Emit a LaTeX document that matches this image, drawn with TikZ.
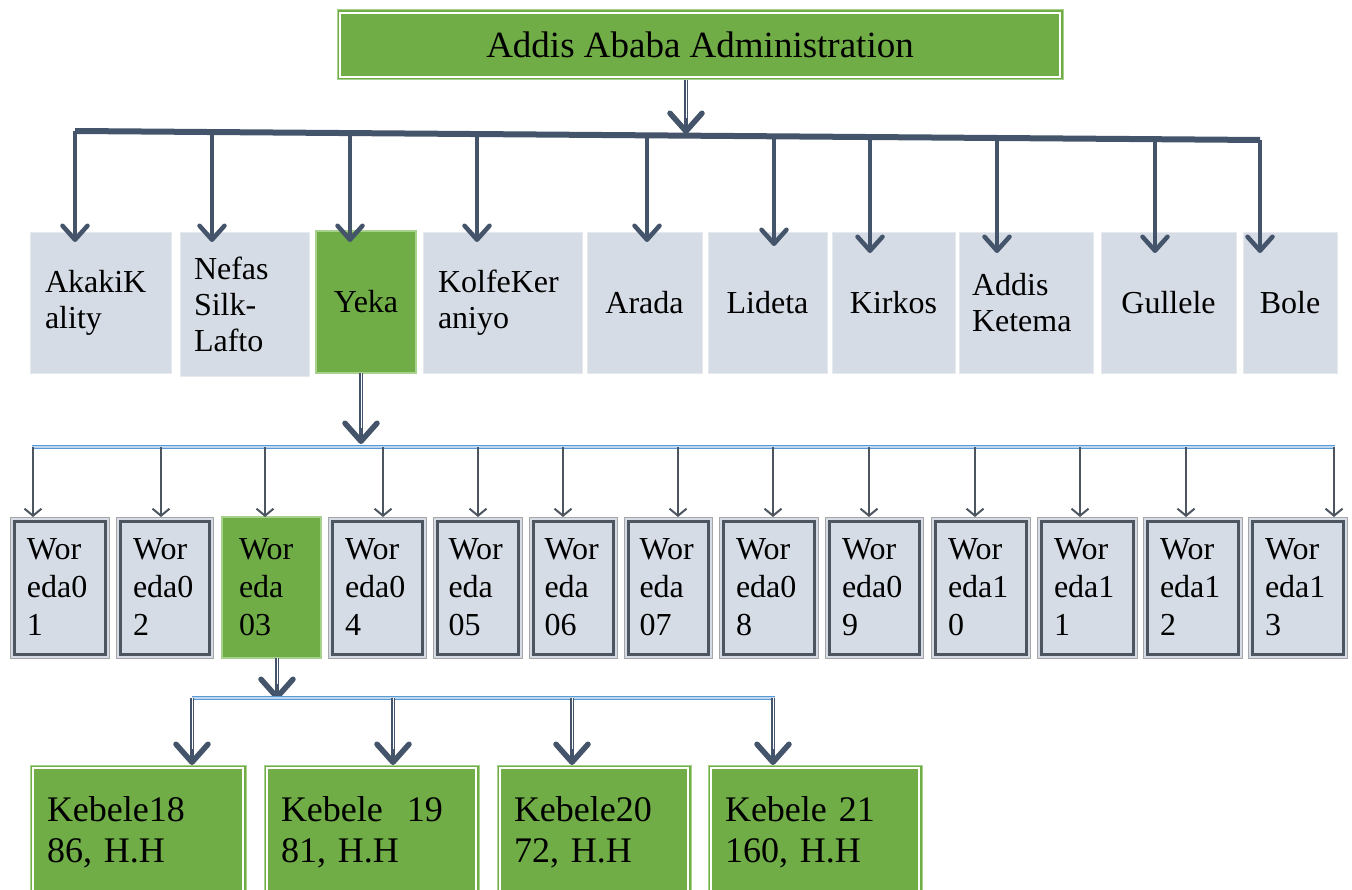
\documentclass[tikz,border=0pt]{standalone}
\usepackage{fontspec}
\setmainfont{Liberation Serif}
\usetikzlibrary{arrows.meta,calc}
\definecolor{darkc}{HTML}{44546A}
\definecolor{greenc}{HTML}{70AD47}
\definecolor{greenl}{HTML}{A9D18E}
\definecolor{lightc}{HTML}{D6DCE5}
\definecolor{bluec}{HTML}{5B9BD5}
\definecolor{bluel}{HTML}{BDD7EE}
\definecolor{grayb}{HTML}{A6A6A6}
\definecolor{wdark}{HTML}{4D5560}
\begin{document}
\begin{tikzpicture}[x=1pt,y=-1pt,
  box/.style={anchor=north west, inner sep=0pt, outer sep=0pt},
  plaingreen/.style={box, fill=greenc, draw=greenl, line width=1.2pt},
  greenbox/.style={box, fill=greenc, draw=greenl, line width=1pt,
    path picture={\draw[white, line width=1.1pt] ([shift={(3pt,-3pt)}]path picture bounding box.north west) rectangle ([shift={(-3pt,3pt)}]path picture bounding box.south east);}},
  dist/.style={box, fill=lightc, draw=lightc!60!white, line width=0.8pt, font={\fontsize{32}{36}\selectfont}},
  wbox/.style={box, fill=lightc, draw=grayb, line width=0.8pt, font={\fontsize{32}{38}\selectfont}, align=left,
    path picture={\draw[wdark, line width=3pt] ([shift={(4pt,-4pt)}]path picture bounding box.north west) rectangle ([shift={(-4pt,4pt)}]path picture bounding box.south east);}},
  wgreen/.style={plaingreen, font={\fontsize{32}{38}\selectfont}, align=left},
  kbox/.style={greenbox, font={\fontsize{36}{41}\selectfont}, align=left},
  bar/.style={draw=darkc, line width=6pt},
  darrow/.style={draw=darkc, line width=3.5pt, -{Straight Barb[length=14pt,width=25pt,line width=4.5pt,round]}},
  bigarrow/.style={draw=darkc, line width=3.5pt, -{Straight Barb[length=18pt,width=32pt,line width=5.5pt,round]},
    postaction={draw=white, line width=0.9pt, shorten >=16pt, -}},
  warrow/.style={draw=wdark, line width=1.8pt, -{Straight Barb[length=7pt,width=17pt,line width=2pt]}},
  bluebar/.style={draw=bluec, line width=1.2pt, double=bluel, double distance=2pt}
]
\useasboundingbox (0,0) rectangle (1352,890);
\clip (0,0) rectangle (1352,890);

% top
\node[greenbox, minimum width=726pt, minimum height=70pt, font={\fontsize{37}{40}\selectfont}] (admin) at (337,10) {Addis Ababa Administration};

% districts
\node[dist, minimum width=141pt, minimum height=141pt, text width=111pt, align=left] (d1) at (30,232) {AkakiK\\ality};
\node[dist, minimum width=129pt, minimum height=144pt, text width=101pt, align=left] (d2) at (180,232) {Nefas\\Silk-\\Lafto};
\node[plaingreen, minimum width=100pt, minimum height=142pt, text width=90pt, align=center, font={\fontsize{32}{36}\selectfont}] (d3) at (316,231) {Yeka};
\node[dist, minimum width=159pt, minimum height=141pt, text width=129pt, align=left] (d4) at (423,232) {KolfeKer\\aniyo};
\node[dist, minimum width=115pt, minimum height=141pt, text width=105pt, align=center] (d5) at (587,232) {Arada};
\node[dist, minimum width=119pt, minimum height=141pt, text width=109pt, align=center] (d6) at (708,232) {Lideta};
\node[dist, minimum width=123pt, minimum height=141pt, text width=113pt, align=center] (d7) at (832,232) {Kirkos};
\node[dist, minimum width=134pt, minimum height=141pt, text width=108pt, align=left] (d8) at (959,232) {Addis\\Ketema};
\node[dist, minimum width=135pt, minimum height=141pt, text width=125pt, align=center] (d9) at (1101,232) {Gullele};
\node[dist, minimum width=94pt, minimum height=141pt, text width=84pt, align=center] (d10) at (1243,232) {Bole};

% woredas
\node[wbox, minimum width=99pt, minimum height=141pt, text width=65pt] (w1) at (10,517) {Wor\\eda0\\1};
\node[wbox, minimum width=97pt, minimum height=141pt, text width=63pt] (w2) at (116,517) {Wor\\eda0\\2};
\node[wgreen, minimum width=99pt, minimum height=141pt, text width=65pt] (w3) at (222,517) {Wor\\eda\\03};
\node[wbox, minimum width=98pt, minimum height=141pt, text width=64pt] (w4) at (328,517) {Wor\\eda0\\4};
\node[wbox, minimum width=89pt, minimum height=141pt, text width=58pt] (w5) at (433,517) {Wor\\eda\\05};
\node[wbox, minimum width=88pt, minimum height=141pt, text width=57pt] (w6) at (529,517) {Wor\\eda\\06};
\node[wbox, minimum width=88pt, minimum height=141pt, text width=57pt] (w7) at (624,517) {Wor\\eda\\07};
\node[wbox, minimum width=99pt, minimum height=141pt, text width=65pt] (w8) at (719,517) {Wor\\eda0\\8};
\node[wbox, minimum width=98pt, minimum height=141pt, text width=64pt] (w9) at (825,517) {Wor\\eda0\\9};
\node[wbox, minimum width=99pt, minimum height=141pt, text width=65pt] (w10) at (931,517) {Wor\\eda1\\0};
\node[wbox, minimum width=100pt, minimum height=141pt, text width=66pt] (w11) at (1037,517) {Wor\\eda1\\1};
\node[wbox, minimum width=99pt, minimum height=141pt, text width=65pt] (w12) at (1143,517) {Wor\\eda1\\2};
\node[wbox, minimum width=99pt, minimum height=141pt, text width=65pt] (w13) at (1248,517) {Wor\\eda1\\3};

% kebeles
\node[kbox, minimum width=216pt, minimum height=135pt, text width=182pt] (k1) at (30,765) {Kebele18\\86, H.H};
\node[kbox, minimum width=215pt, minimum height=135pt, text width=181pt] (k2) at (264,765) {Kebele~ 19\\81, H.H};
\node[kbox, minimum width=194pt, minimum height=135pt, text width=160pt] (k3) at (497,765) {Kebele20\\72, H.H};
\node[kbox, minimum width=214pt, minimum height=135pt, text width=180pt] (k4) at (708,765) {Kebele 21\\160, H.H};

% admin -> bar
\coordinate (at) at (686,134);
\draw[bigarrow] (admin.south -| at) -- (at);

% main bar and drops
\coordinate (b1) at (75,131);
\coordinate (b2) at (212,132);
\coordinate (b3) at (350,133.1);
\coordinate (b4) at (477,134);
\coordinate (b5) at (647,135.3);
\coordinate (b6) at (774,136.3);
\coordinate (b7) at (870,137);
\coordinate (b8) at (997,138);
\coordinate (b9) at (1155,139.2);
\coordinate (b10) at (1260,140);
\draw[bar] (b1) -- (b10);
\draw[darrow] (b1) -- ($(b1 |- d1.north)+(0,10)$);
\draw[darrow] (b2) -- ($(b2 |- d2.north)+(0,10)$);
\draw[darrow] (b3) -- ($(b3 |- d3.north)+(0,11)$);
\draw[darrow] (b4) -- ($(b4 |- d4.north)+(0,10)$);
\draw[darrow] (b5) -- ($(b5 |- d5.north)+(0,10)$);
\draw[darrow] (b6) -- ($(b6 |- d6.north)+(0,14)$);
\draw[darrow] (b7) -- ($(b7 |- d7.north)+(0,21)$);
\draw[darrow] (b8) -- ($(b8 |- d8.north)+(0,21)$);
\draw[darrow] (b9) -- ($(b9 |- d9.north)+(0,21)$);
\draw[darrow] (b10) -- ($(b10 |- d10.north)+(0,21)$);

% Yeka -> woreda bar
\coordinate (yk) at (361,444);
\draw[bigarrow] (d3.south -| yk) -- (yk);

% woreda bar and drops
\coordinate (wb1) at (33,447);
\coordinate (wb2) at (161,447);
\coordinate (wb3) at (265,447);
\coordinate (wb4) at (383,447);
\coordinate (wb5) at (478,447);
\coordinate (wb6) at (563,447);
\coordinate (wb7) at (678,447);
\coordinate (wb8) at (773,447);
\coordinate (wb9) at (869,447);
\coordinate (wb10) at (975,447);
\coordinate (wb11) at (1080,447);
\coordinate (wb12) at (1186,447);
\coordinate (wb13) at (1334,447);
\draw[bluebar] ($(wb1)+(-1,0)$) -- ($(wb13)+(1,0)$);
\foreach \i in {1,...,13} {
  \draw[warrow] (wb\i) -- (wb\i |- w\i.north);
}

% woreda03 -> kebele bar
\coordinate (kt) at (277,700);
\draw[bigarrow] (w3.south -| kt) -- (kt);

% kebele bar and drops
\coordinate (kb1) at (192,698);
\coordinate (kb2) at (393,698);
\coordinate (kb3) at (572,698);
\coordinate (kb4) at (773,698);
\draw[bluebar] (kb1) -- ($(kb4)+(2,0)$);
\foreach \i in {1,...,4} {
  \draw[bigarrow] (kb\i) -- (kb\i |- k\i.north);
}
\end{tikzpicture}
\end{document}
